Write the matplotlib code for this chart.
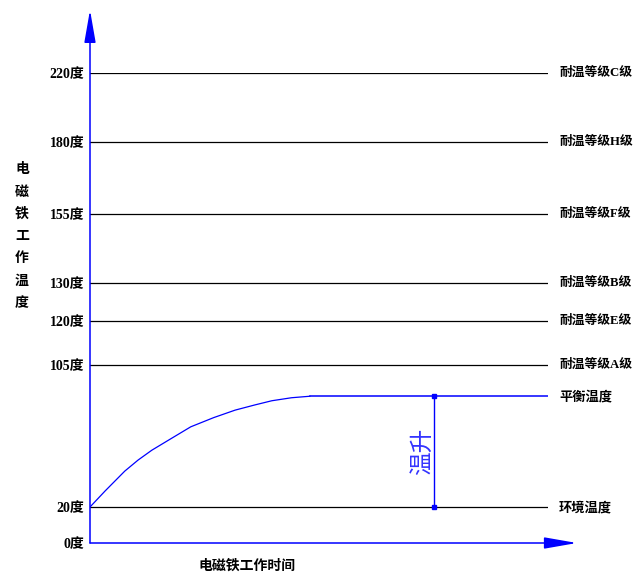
import matplotlib
matplotlib.use('Agg')
import matplotlib.pyplot as plt
import numpy as np

plt.rcParams['font.family'] = ['Noto Sans CJK SC', 'DejaVu Sans']

# temperature levels (deg) and their labels
levels = [220, 180, 155, 130, 120, 105]
level_names = ['耐温等级C级', '耐温等级H级', '耐温等级F级', '耐温等级B级', '耐温等级E级', '耐温等级A级']
balance_temp = 86.3
ambient_temp = 20
ytick_vals = [0, 20, 105, 120, 130, 155, 180, 220]
ytick_labels = ['0度', '20度', '105度', '120度', '130度', '155度', '180度', '220度']

# heating curve (time in arbitrary units)
curve_t = [0, 3.3, 7.6, 10.5, 13.5, 17.8, 22, 27, 31.7, 36, 39.7, 44, 48]
curve_temp = [20, 29.6, 41.5, 48.1, 54, 61.1, 68, 73.5, 78, 81.1, 83.6, 85.4, 86.3]
t_end = 100
rise_t = 75
rise_label_t = 72.5

# schematic (non linear) vertical scale of the drawing
scale_vals = np.array([0, 20, 105, 120, 130, 155, 180, 220])
scale_pos = np.array([0, 36, 178, 222, 260, 329, 401, 470])


def fwd(v):
    return np.interp(v, scale_vals, scale_pos)


def inv(p):
    return np.interp(p, scale_pos, scale_vals)


fig = plt.figure(figsize=(6.44, 5.84), dpi=100)
ax = fig.add_axes([90 / 644, 41 / 584, 458 / 644, 470 / 584])
ax.set_yscale('function', functions=(fwd, inv))
ax.set_xlim(0, t_end)
ax.set_ylim(0, 220)
for s in ax.spines.values():
    s.set_visible(False)

serif = ['Liberation Serif', 'Noto Sans CJK SC']

ax.set_xticks([])
ax.set_yticks(ytick_vals)
ax.set_yticklabels(ytick_labels, family=serif, fontweight='bold', fontsize=10)
ax.tick_params(axis='y', length=0, pad=4)

# grade lines
for v, name in zip(levels, level_names):
    ax.plot([0, t_end], [v, v], color='black', lw=0.9)
    ax.annotate(name, (t_end, v), xytext=(8, 0), textcoords='offset points',
                ha='left', va='center', family=serif, fontweight='bold', fontsize=9.2)

# ambient line
ax.plot([0, t_end], [ambient_temp, ambient_temp], color='black', lw=0.9)
ax.annotate('环境温度', (t_end, ambient_temp), xytext=(8, 0), textcoords='offset points',
            ha='left', va='center', fontweight='bold', fontsize=9.5)

# heating curve + balance line
ax.plot(curve_t, curve_temp, color='#0000ff', lw=0.9)
ax.plot([curve_t[-1], t_end], [balance_temp, balance_temp], color='#0000ff', lw=1.1)
ax.annotate('平衡温度', (t_end, balance_temp), xytext=(8, 0), textcoords='offset points',
            ha='left', va='center', fontweight='bold', fontsize=9.5)

# temperature rise marker
ax.plot([rise_t, rise_t], [ambient_temp, balance_temp], color='#0000ff', lw=1.0,
        marker='s', markersize=2.5)
mid = inv((fwd(ambient_temp) + fwd(balance_temp)) / 2)
ax.text(rise_label_t, mid, '温升', rotation=90, ha='center', va='center',
        color='#3333ff', fontsize=17, fontweight='light')

# axes with arrows
ax.annotate('', xy=(0, 1.134), xytext=(0, 0), xycoords='axes fraction',
            arrowprops=dict(arrowstyle='-|>,head_length=2.0,head_width=0.35',
                            color='#0000ff', lw=1.1, shrinkA=0, shrinkB=0))
ax.annotate('', xy=(1.063, 0), xytext=(0, 0), xycoords='axes fraction',
            arrowprops=dict(arrowstyle='-|>,head_length=2.0,head_width=0.35',
                            color='#0000ff', lw=1.1, shrinkA=0, shrinkB=0))

# axis titles
fig.text(22 / 644, 1 - 236 / 584, '\n'.join('电磁铁工作温度'), ha='center', va='center',
         fontweight='bold', fontsize=10, linespacing=1.75)
fig.text(247 / 644, 1 - 566 / 584, '电磁铁工作时间', ha='center', va='center',
         fontweight='bold', fontsize=10)

fig.savefig('out.png', dpi=100)
